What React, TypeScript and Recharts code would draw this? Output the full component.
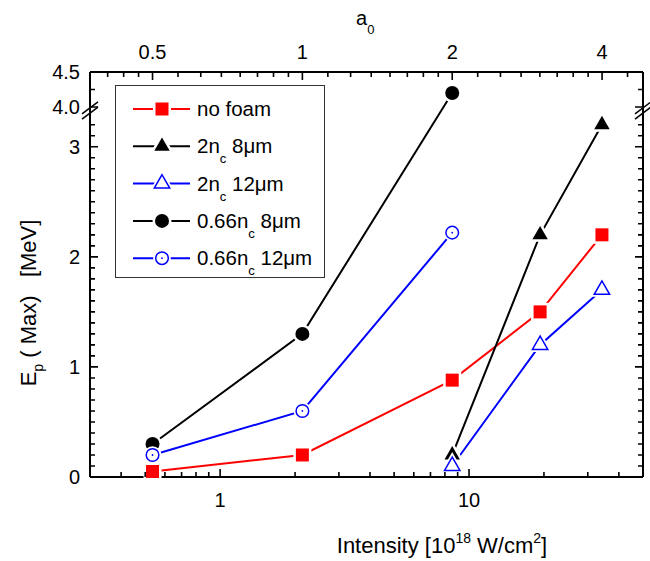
import React from "react";
import { ComposedChart, Line, XAxis, YAxis, Legend, ReferenceLine } from "recharts";

const FONT = '"Liberation Sans", Arial, Helvetica, sans-serif';

// Laser intensity [10^18 W/cm^2] at a0 = 0.5, 1, 2, 3, 4
const intensityLow = [0.535, 2.14, 8.56];
const intensityHigh = [8.56, 19.3, 34.2];
const intensityAll = [0.535, 2.14, 8.56, 19.3, 34.2];

// max proton energy [MeV]
const noFoam = [0.05, 0.2, 0.88, 1.5, 2.2];
const nc2um8 = [0.2, 2.2, 3.2];
const nc2um12 = [0.1, 1.2, 1.7];
const nc066um8 = [0.3, 1.3, 4.2];
const nc066um12 = [0.2, 0.6, 2.22];

// ticks
const xMajor = [1, 10];
const xMinor = [0.4, 0.5, 0.6, 0.7, 0.8, 0.9, 2, 3, 4, 5, 6, 7, 8, 9, 20, 30, 40];
const a0Major = [0.5, 1, 2, 4];
const a0Minor = [
  0.40625, 0.4375, 0.46875, 0.5625, 0.625, 0.6875, 0.75, 0.8125, 0.875, 0.9375,
  1.125, 1.25, 1.375, 1.5, 1.625, 1.75, 1.875, 2.25, 2.5, 2.75, 3, 3.25, 3.5, 3.75, 4.5,
];
const yMajor = [0, 1, 2, 3];
const yMinor = [
  0.1, 0.2, 0.3, 0.4, 0.5, 0.6, 0.7, 0.8, 0.9, 1.1, 1.2, 1.3, 1.4, 1.5, 1.6, 1.7, 1.8, 1.9,
  2.1, 2.2, 2.3, 2.4, 2.5, 2.6, 2.7, 2.8, 2.9, 3.1, 3.2,
];
const yUpperMajor = [4.0, 4.5];
const yUpperMinor = [4.25];

const A0_TO_I = 2.14; // I = 2.14 * a0^2

const W = 650;
const H = 561;
const M = { left: 90, right: 7, top: 72, bottom: 84 };
const X_DOMAIN = [0.3, 50];

// broken y axis: 0..3.3 linear, then 4.0..4.5 compressed
const BREAK_LO = 3.3;
const BREAK_HI = 4.0;
const UPPER_BASE = 3.361;
const UPPER_SCALE = 0.6364;
const BREAK_AT = 3.33;
const toAxis = (v: number) => (v <= BREAK_LO ? v : UPPER_BASE + (v - BREAK_HI) * UPPER_SCALE);
const Y_MAX = toAxis(4.5);

const MAJOR = 8;
const MINOR = 5;

type Kind = "square" | "tri" | "triOpen" | "circle" | "circleOpen";

const pts = (xs: number[], ys: number[]) => xs.map((x, i) => ({ x, y: toAxis(ys[i]), v: ys[i] }));

const SERIES: { name: string; base: string; sub?: string; rest?: string; color: string; kind: Kind; data: any[] }[] = [
  { name: "no foam", base: "no foam", color: "#ff0000", kind: "square", data: pts(intensityAll, noFoam) },
  { name: "2nc 8um", base: "2n", sub: "c", rest: " 8\u03bcm", color: "#000000", kind: "tri", data: pts(intensityHigh, nc2um8) },
  { name: "2nc 12um", base: "2n", sub: "c", rest: " 12\u03bcm", color: "#0000ff", kind: "triOpen", data: pts(intensityHigh, nc2um12) },
  { name: "0.66nc 8um", base: "0.66n", sub: "c", rest: " 8\u03bcm", color: "#000000", kind: "circle", data: pts(intensityLow, nc066um8) },
  { name: "0.66nc 12um", base: "0.66n", sub: "c", rest: " 12\u03bcm", color: "#0000ff", kind: "circleOpen", data: pts(intensityLow, nc066um12) },
];

function Shape({ cx, cy, kind, ...rest }: any) {
  if (kind === "square") return <rect x={cx - 6.5} y={cy - 6.5} width={13} height={13} {...rest} />;
  if (kind === "tri" || kind === "triOpen")
    return <polygon points={`${cx},${cy - 8.9} ${cx - 7.7},${cy + 4.5} ${cx + 7.7},${cy + 4.5}`} {...rest} />;
  return <circle cx={cx} cy={cy} r={kind === "circle" ? 7 : 6.3} {...rest} />;
}

function Marker({ cx, cy, kind, color }: { cx: number; cy: number; kind: Kind; color: string }) {
  const open = kind === "triOpen" || kind === "circleOpen";
  return (
    <g>
      <Shape cx={cx} cy={cy} kind={kind} fill="#fff" stroke="#fff" strokeWidth={5} />
      {open ? (
        <Shape cx={cx} cy={cy} kind={kind} fill="#fff" stroke={color} strokeWidth={1.5} />
      ) : (
        <Shape cx={cx} cy={cy} kind={kind} fill={color} />
      )}
      {kind === "circleOpen" && <circle cx={cx} cy={cy} r={0.9} fill={color} />}
    </g>
  );
}

const near = (a: number, b: number) => Math.abs(a - b) < 1e-6;

const yTicks = [
  ...yMajor.map((v) => ({ at: v, label: String(v), major: true })),
  ...yMinor.map((v) => ({ at: v, label: "", major: false })),
  ...yUpperMajor.map((v) => ({ at: toAxis(v), label: v.toFixed(1), major: true })),
  ...yUpperMinor.map((v) => ({ at: toAxis(v), label: "", major: false })),
];
const xTicks = [
  ...xMajor.map((v) => ({ at: v, major: true })),
  ...xMinor.map((v) => ({ at: v, major: false })),
];
const topTicks = [
  ...a0Major.map((a) => ({ at: A0_TO_I * a * a, label: String(a), major: true })),
  ...a0Minor.map((a) => ({ at: A0_TO_I * a * a, label: "", major: false })),
];

// same mapping as the chart axes, used for the frame tick overlay
const PLOT = { x0: M.left, x1: W - M.right, y0: M.top, y1: H - M.bottom };
const px = (v: number) =>
  PLOT.x0 + ((PLOT.x1 - PLOT.x0) * Math.log10(v / X_DOMAIN[0])) / Math.log10(X_DOMAIN[1] / X_DOMAIN[0]);
const py = (t: number) => PLOT.y1 - ((PLOT.y1 - PLOT.y0) * t) / Y_MAX;

function FrameTicks() {
  const d: string[] = [];
  xTicks.forEach((t) => d.push(`M${px(t.at)},${PLOT.y1}v${-(t.major ? MAJOR : MINOR)}`));
  topTicks.forEach((t) => d.push(`M${px(t.at)},${PLOT.y0}v${t.major ? MAJOR : MINOR}`));
  yTicks.forEach((t) => {
    const len = t.major ? MAJOR : MINOR;
    d.push(`M${PLOT.x0},${py(t.at)}h${len}`);
    d.push(`M${PLOT.x1},${py(t.at)}h${-len}`);
  });
  return (
    <svg
      width={W}
      height={H}
      style={{ position: "absolute", left: 0, top: 0, pointerEvents: "none" }}
    >
      <path d={d.join("")} stroke="#000" strokeWidth={1.6} fill="none" />
    </svg>
  );
}

function BreakMark({ x, y }: { x: number; y: number }) {
  const dx = 8;
  const dy = 6;
  const g = 2.6;
  return (
    <g>
      <polygon
        points={`${x - dx},${y + dy + g} ${x + dx},${y - dy + g} ${x + dx},${y - dy - g} ${x - dx},${y + dy - g}`}
        fill="#fff"
      />
      <path d={`M${x - dx},${y + dy + g}L${x + dx},${y - dy + g}`} stroke="#000" strokeWidth={1.5} />
      <path d={`M${x - dx},${y + dy - g}L${x + dx},${y - dy - g}`} stroke="#000" strokeWidth={1.5} />
    </g>
  );
}

function LeftLabel({ y, payload }: any) {
  const t = yTicks.find((d) => near(d.at, payload.value));
  if (!t || !t.label) return null;
  return (
    <text x={M.left - 10} y={y + 7} textAnchor="end" fontSize={20} fontFamily={FONT} fill="#000">
      {t.label}
    </text>
  );
}

function BottomLabel({ x, payload }: any) {
  if (!xMajor.some((v) => near(v, payload.value))) return null;
  return (
    <text x={x} y={H - M.bottom + 30} textAnchor="middle" fontSize={20} fontFamily={FONT} fill="#000">
      {payload.value}
    </text>
  );
}

function TopLabel({ x, payload }: any) {
  const t = topTicks.find((d) => near(d.at, payload.value));
  if (!t || !t.label) return null;
  return (
    <text x={x} y={M.top - 13} textAnchor="middle" fontSize={20} fontFamily={FONT} fill="#000">
      {t.label}
    </text>
  );
}

function XTitle() {
  return (
    <text x={442} y={553} textAnchor="middle" fontSize={22} fontFamily={FONT} fill="#000">
      Intensity [10<tspan fontSize={14} dy={-10}>18</tspan>
      <tspan dy={10}> W/cm</tspan>
      <tspan fontSize={14} dy={-10}>2</tspan>
      <tspan dy={10}>]</tspan>
    </text>
  );
}

function TopTitle() {
  return (
    <text x={356} y={25} fontSize={20} fontFamily={FONT} fill="#000">
      a<tspan fontSize={13} dy={9}>0</tspan>
    </text>
  );
}

function YTitle() {
  return (
    <text
      transform="translate(36,303) rotate(-90)"
      textAnchor="middle"
      fontSize={22}
      fontFamily={FONT}
      fill="#000"
      xmlSpace="preserve"
      style={{ whiteSpace: "pre" }}
    >
      E<tspan fontSize={14} dy={7}>p</tspan>
      <tspan dy={-7}> ( Max)   [MeV]</tspan>
    </text>
  );
}

function LegendBox({ payload }: any) {
  const names = (payload ?? []).map((e: any) => e.value);
  const items = SERIES.filter((s) => names.includes(s.name));
  return (
    <svg width={210} height={193} style={{ display: "block" }}>
      <rect x={0.5} y={0.5} width={209} height={192} fill="#fff" stroke="#333" strokeWidth={1} />
      {items.map((s, i) => {
        const cy = 24 + i * 37.3;
        return (
          <g key={s.name}>
            <path d={`M18,${cy}H75`} stroke={s.color} strokeWidth={2} />
            <Marker cx={47} cy={cy} kind={s.kind} color={s.color} />
            <text x={82} y={cy + 7} fontSize={20.5} fontFamily={FONT} fill="#000">
              {s.base}
              {s.sub && (
                <>
                  <tspan fontSize={13} dy={10}>
                    {s.sub}
                  </tspan>
                  <tspan dy={-10}>{s.rest}</tspan>
                </>
              )}
            </text>
          </g>
        );
      })}
    </svg>
  );
}

const AXIS_LINE = { stroke: "#000", strokeWidth: 2 };

export default function App() {
  return (
    <div style={{ position: "absolute", left: 0, top: 0, width: W, height: H, background: "#fff" }}>
      <ComposedChart width={W} height={H} margin={{ top: 0, right: 0, bottom: 0, left: 0 }}>
        <XAxis
          xAxisId="b"
          dataKey="x"
          type="number"
          scale="log"
          domain={X_DOMAIN}
          ticks={xMajor}
          interval={0}
          tick={<BottomLabel />}
          tickSize={0}
          tickMargin={0}
          tickLine={false}
          axisLine={AXIS_LINE}
          height={M.bottom}
          label={<XTitle />}
        />
        <XAxis
          xAxisId="t"
          dataKey="x"
          orientation="top"
          type="number"
          scale="log"
          domain={X_DOMAIN}
          allowDataOverflow
          ticks={topTicks.filter((d) => d.major).map((d) => d.at)}
          interval={0}
          tick={<TopLabel />}
          tickSize={0}
          tickMargin={0}
          tickLine={false}
          axisLine={AXIS_LINE}
          height={M.top}
          label={<TopTitle />}
        />
        <YAxis
          yAxisId="l"
          type="number"
          domain={[0, Y_MAX]}
          ticks={yTicks.filter((d) => d.major).map((d) => d.at)}
          interval={0}
          tick={<LeftLabel />}
          tickSize={0}
          tickMargin={0}
          tickLine={false}
          axisLine={AXIS_LINE}
          width={M.left}
          label={<YTitle />}
        />
        <YAxis
          yAxisId="r"
          orientation="right"
          type="number"
          domain={[0, Y_MAX]}
          allowDataOverflow
          tick={false}
          tickLine={false}
          axisLine={AXIS_LINE}
          width={M.right}
        />
        <Legend
          layout="vertical"
          align="center"
          verticalAlign="middle"
          wrapperStyle={{ left: 115, top: 85, width: 210, height: 193 }}
          content={<LegendBox />}
        />

        {/* axis break marks on left and right frame */}
        <ReferenceLine
          xAxisId="b"
          yAxisId="l"
          y={BREAK_AT}
          ifOverflow="visible"
          shape={(p: any) => (
            <g>
              <BreakMark x={Math.min(p.x1, p.x2)} y={p.y1} />
              <BreakMark x={Math.max(p.x1, p.x2)} y={p.y1} />
            </g>
          )}
        />

        {/* carrier series so the top (a0) and right axes get a domain */}
        <Line
          xAxisId="t"
          yAxisId="r"
          data={SERIES[0].data}
          dataKey="y"
          stroke="none"
          dot={false}
          activeDot={false}
          legendType="none"
          isAnimationActive={false}
        />

        {SERIES.map((s) => (
          <Line
            key={s.name}
            xAxisId="b"
            yAxisId="l"
            data={s.data}
            dataKey="y"
            name={s.name}
            type="linear"
            stroke={s.color}
            strokeWidth={2}
            activeDot={false}
            isAnimationActive={false}
            dot={(p: any) => <Marker key={`${s.name}-${p.index}`} cx={p.cx} cy={p.cy} kind={s.kind} color={s.color} />}
          />
        ))}
      </ComposedChart>
      <FrameTicks />
    </div>
  );
}
